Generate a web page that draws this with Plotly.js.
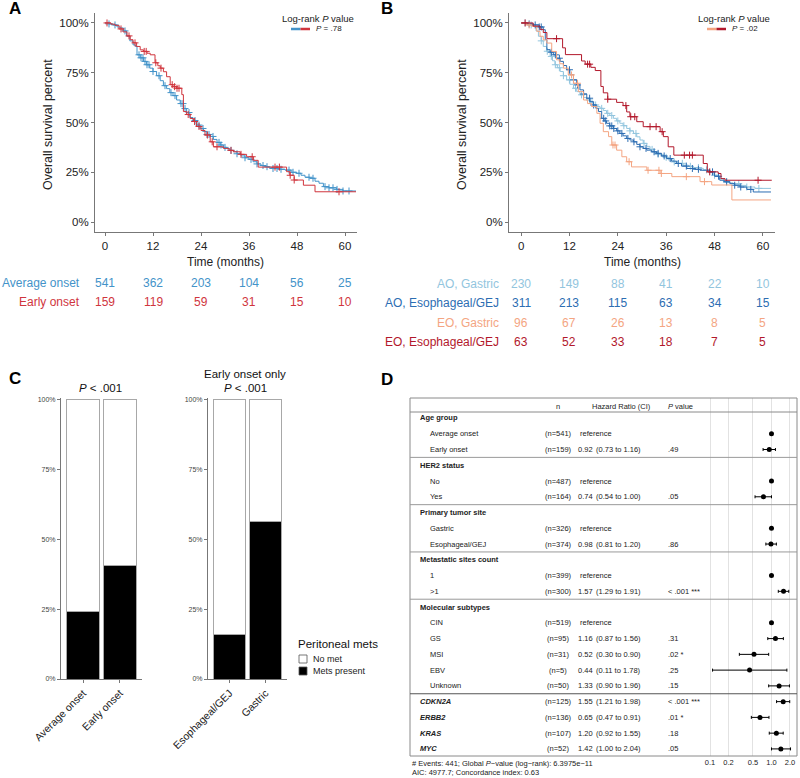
<!DOCTYPE html>
<html><head><meta charset="utf-8">
<script src="https://cdn.plot.ly/plotly-3.0.1.min.js"></script>
<style>html,body{margin:0;padding:0;background:#fff}#chart{width:800px;height:778px}</style>
</head><body><div id="chart"></div>
<script>
// ---------------- Panel A: Kaplan-Meier by onset ----------------
const timeTicks = [0, 12, 24, 36, 48, 60];
const survTicks = [0, 25, 50, 75, 100];
const survTickText = ['0%', '25%', '50%', '75%', '100%'];

const tA_avg = [0, 1, 2, 3, 3.8, 4.6, 5.4, 6.2, 7, 7.6, 8, 8.8, 9.6, 10.4, 11.2, 12, 12.9, 13.8, 14.6, 15.4, 16.2, 17, 17.9, 18.8, 19.6, 20.4, 21.2, 22, 23, 23.8, 24.6, 25.5, 26.3, 27.1, 28, 28.8, 29.6, 30.5, 31.3, 32.1, 33, 34, 35, 36, 37, 38, 39, 40, 41, 42, 43.5, 45, 46.5, 47.9, 49, 50, 51.2, 52.5, 53.5, 54.6, 56, 57.9, 59.5, 62.75];
const sA_avg = [100, 99.5, 99, 98, 97.5, 96, 93.3, 91, 89, 88.2, 84, 82.5, 80.7, 79, 77.3, 75.6, 73.5, 71, 68.5, 67, 65, 63.5, 61.3, 59.5, 57, 55, 52.5, 51, 48.7, 47, 45.5, 44, 43, 41.5, 40, 38.7, 37.5, 36.8, 36, 35.3, 34.3, 33.2, 32.3, 31.5, 30.3, 29.2, 28.4, 27.8, 27.2, 26.9, 26.5, 26.1, 25, 24.5, 23.5, 22.5, 22, 20.5, 19.5, 17.8, 17.2, 16.4, 15.6, 15.6];
const cA_avg = [1, 2.5, 5, 8.5, 9, 9.5, 10, 10.5, 11, 12, 13.5, 15, 16.5, 17.5, 19, 19.5, 20, 21, 22.5, 23.5, 24.5, 25.5, 26, 27, 28.5, 29, 30, 31.5, 33, 35, 36.5, 38, 39.5, 40.5, 42, 43, 44, 46, 47, 48.5, 51, 52, 55, 56, 57, 58, 59.5, 61];

const tA_early = [0, 1.5, 2.5, 3.5, 4.5, 5.5, 6.3, 7, 7.9, 8.8, 9.6, 10.5, 11.3, 12.5, 13.2, 13.8, 14.6, 15.4, 16.3, 17, 17.9, 19.2, 19.6, 20.4, 21.3, 22.1, 22.9, 24, 25, 26.3, 27.1, 29.6, 31, 32.1, 33.8, 35.4, 37.1, 38.3, 45.4, 46.2, 47.3, 49.6, 52.5, 62.75];
const sA_early = [100, 99.4, 98.8, 97, 95.5, 93.5, 91.6, 90, 88.2, 86.5, 85.7, 84.8, 84, 80, 78.5, 77.3, 75.5, 73, 69, 68, 67.2, 64, 55.5, 54, 52, 50.5, 48, 46, 43.7, 40.3, 37.8, 37, 36, 35.3, 34, 32.8, 31, 27.6, 25.3, 23.5, 21.1, 18.5, 15.2, 15.2];
const cA_early = [0.5, 4, 6, 7.5, 9.8, 10.3, 12.7, 14, 16.8, 17.4, 18, 18.5, 20.8, 22.4, 23.5, 25.6, 26.8, 28, 31.5, 34, 36.8, 42.5, 43.6, 46.3, 47.3, 58.5];

const riskA_labels = ['Average onset', 'Early onset'];
const riskA_avg = [541, 362, 203, 104, 56, 25];
const riskA_early = [159, 119, 59, 31, 15, 10];

// ---------------- Panel B: KM by onset x site ----------------
const tB_aoG = [0, 1.5, 3, 3.7, 4.3, 5, 5.5, 6.3, 7.2, 7.8, 8.4, 9, 9.7, 10.5, 11.3, 12.1, 13, 13.8, 14.6, 15.5, 16.3, 17.1, 17.9, 18.8, 19.6, 20.4, 21.2, 22, 22.9, 23.7, 24.5, 25.3, 26.2, 27, 27.9, 28.7, 29.5, 30.3, 31.2, 32, 33, 34, 35.3, 36.5, 37.8, 39, 40.2, 41.5, 42.7, 44.4, 45.2, 46.5, 47.7, 49, 50.2, 51.5, 52.6, 54.3, 55.9, 58, 62];
const sB_aoG = [100, 99, 98.3, 96, 93.3, 91, 88.2, 85.8, 83.2, 81, 79, 77.5, 75.6, 73.5, 71.4, 69.2, 67.2, 65.5, 63.9, 62.5, 61.3, 60, 58.8, 58, 57.1, 56, 54.6, 53.5, 52.1, 50.8, 49.6, 48.4, 47, 45.8, 44.5, 42.8, 41.2, 39.5, 38, 36.5, 35, 34, 32.5, 31.2, 30.2, 29.5, 28.6, 28, 27.4, 27, 26.2, 24.8, 23.5, 21.8, 20.2, 19.7, 19.3, 18.4, 17.6, 16.9, 16.9];
const cB_aoG = [1, 2.5, 5, 6.5, 7.5, 8.5, 9.5, 10.5, 12, 13.5, 15, 17, 18.5, 20, 21.5, 22.5, 24, 25.5, 27, 28.5, 30.5, 32.5, 34, 36, 38, 40, 42, 44, 46, 48, 51, 54, 56, 59];

const tB_aoE = [0, 1.5, 3, 4.5, 5.5, 6, 6.4, 7.2, 8, 8.8, 9.7, 10.5, 11.3, 12.1, 13, 13.8, 14.6, 15.5, 16.3, 17.1, 17.9, 18.6, 19.2, 20, 20.6, 21.2, 22, 22.9, 23.7, 24.5, 25.3, 26.2, 27, 27.9, 28.7, 29.5, 30.3, 31.2, 32.4, 33.6, 34.8, 36.1, 37.3, 38.6, 39.8, 41.1, 42.7, 44.4, 46.9, 48, 49.3, 50.5, 51.8, 53, 54.3, 56, 57.6, 62];
const sB_aoE = [100, 99.5, 99, 98, 96.6, 91.6, 86.6, 85.3, 84, 82.3, 80.7, 78.6, 76.5, 74, 71.4, 68.9, 66.4, 64.3, 62.2, 60.5, 58.8, 57.1, 55.5, 52.1, 50.8, 49.6, 48.3, 47, 45.8, 44.5, 43.3, 42, 41.2, 40.3, 39, 37.8, 37, 36.1, 35.3, 34.5, 33.2, 31.9, 30.6, 29.4, 28.1, 26.9, 26.5, 26, 25.2, 23, 21, 20.2, 19.3, 18.5, 17.6, 16.4, 15.1, 15.1];
const cB_aoE = [2, 3.5, 4.5, 5, 7.5, 8.5, 9.5, 12, 13, 14, 15.5, 17, 18, 20.5, 21, 22, 22.5, 23, 24, 25, 26.5, 28, 29.5, 31, 33, 34, 35.5, 37, 39, 41, 42.5, 44, 47.5, 49, 51, 53, 54.5, 57];

const tB_eoG = [0, 1.4, 2.6, 3.9, 4.7, 5.5, 6.4, 7.6, 8.8, 9.6, 10.5, 11.7, 13, 14.2, 15.5, 16.5, 17.5, 18.8, 19.6, 20.4, 21.7, 22.5, 23.7, 25, 26.2, 27.4, 31.2, 34.5, 37.4, 44.4, 47.3, 52.3, 62];
const sB_eoG = [100, 99, 98.3, 95.8, 93.3, 91.5, 89.9, 85.7, 81.5, 79.5, 77.3, 73.9, 69.7, 65.5, 61.3, 59.5, 58, 54.6, 49.6, 45.4, 42.9, 38.7, 36.1, 32.8, 30.3, 27.7, 26, 24.4, 22.8, 20.3, 18.6, 11.1, 11.1];
const cB_eoG = [2, 12.5, 14, 22.8, 23.3, 26.8, 31.5, 34.2, 34.8, 41, 45.5];

const tB_eoE = [0, 3, 4.7, 5.5, 6.4, 10.3, 11, 15, 15.9, 17.3, 18.4, 19.8, 20.4, 21.5, 23.7, 25.3, 26.2, 27, 28.7, 30.3, 34.5, 35.3, 36.5, 37.9, 45.2, 46.2, 48.9, 49.6, 50.6, 62.2];
const sB_eoE = [100, 98.4, 96.8, 95.2, 92.1, 87.5, 84.1, 80.9, 79.3, 77.7, 76.1, 68.1, 64.9, 61.7, 60.1, 58.5, 55.3, 52.9, 50.4, 47.9, 45.4, 42.9, 37.8, 33.6, 29.4, 25.2, 24.4, 21.8, 21, 21];
const cB_eoE = [1, 8.8, 16.5, 17, 21.5, 26, 27.2, 28.2, 32, 33.5, 35, 40.5, 41.8, 42.5, 46.8, 58.8];

const riskB_labels = ['AO, Gastric', 'AO, Esophageal/GEJ', 'EO, Gastric', 'EO, Esophageal/GEJ'];
const riskB_aoG = [230, 149, 88, 41, 22, 10];
const riskB_aoE = [311, 213, 115, 63, 34, 15];
const riskB_eoG = [96, 67, 26, 13, 8, 5];
const riskB_eoE = [63, 52, 33, 18, 7, 5];

// ---------------- Panel C: peritoneal mets ----------------
const c1Cats = ['Average onset', 'Early onset'];
const c1MetsPct = [24.1, 40.5];
const c2Cats = ['Esophageal/GEJ', 'Gastric'];
const c2MetsPct = [16.0, 56.4];
const metLegendTitle = 'Peritoneal mets';
const metLegend = ['No met', 'Mets present'];
const metColors = ['#ffffff', '#000000'];

// ---------------- Panel D: forest plot ----------------
const fLabels = ['Age group', 'Average onset', 'Early onset', 'HER2 status', 'No', 'Yes', 'Primary tumor site', 'Gastric', 'Esophageal/GEJ', 'Metastatic sites count', '1', '&gt;1', 'Molecular subtypes', 'CIN', 'GS', 'MSI', 'EBV', 'Unknown', 'CDKN2A', 'ERBB2', 'KRAS', 'MYC'];
const fKind = ['h', 'l', 'l', 'h', 'l', 'l', 'h', 'l', 'l', 'h', 'l', 'l', 'h', 'l', 'l', 'l', 'l', 'l', 'g', 'g', 'g', 'g'];
const fN = [null, 541, 159, null, 487, 164, null, 326, 374, null, 399, 300, null, 519, 95, 31, 5, 50, 125, 136, 107, 52];
const fHR = [null, 1, 0.92, null, 1, 0.74, null, 1, 0.98, null, 1, 1.57, null, 1, 1.16, 0.52, 0.44, 1.33, 1.55, 0.65, 1.20, 1.42];
const fLo = [null, null, 0.73, null, null, 0.54, null, null, 0.81, null, null, 1.29, null, null, 0.87, 0.30, 0.11, 0.90, 1.21, 0.47, 0.92, 1.00];
const fHi = [null, null, 1.16, null, null, 1.00, null, null, 1.20, null, null, 1.91, null, null, 1.56, 0.90, 1.78, 1.96, 1.98, 0.91, 1.55, 2.04];
const fP = [null, null, '.49', null, null, '.05', null, null, '.86', null, null, '&lt; .001 ***', null, null, '.31', '.02 *', '.25', '.15', '&lt; .001 ***', '.01 *', '.18', '.05'];
const fSeparators = [2.5, 5.5, 8.5, 11.5];
const fGeneSeparator = 17.5;
const fAxisTicks = [0.1, 0.2, 0.5, 1, 2];
const fAxisTickText = ['0.1', '0.2', '0.5', '1.0', '2.0'];
const fFooter1 = '# Events: 441; Global <i>P</i>\u2212value (log\u2212rank): 6.3975e\u221211';
const fFooter2 = 'AIC: 4977.7; Concordance index: 0.63';

// ---------------- helpers ----------------
const W = 800, H = 778;
const px = v => v / W;
const py = v => 1 - v / H;
const FONT = 'Liberation Sans, Arial, Helvetica, sans-serif';

function stepAt(ts, ss, t) { let v = ss[0]; for (let i = 0; i < ts.length; i++) { if (ts[i] <= t) v = ss[i]; } return v; }

function km(ts, ss, cens, color, xa, ya) {
  return [
    { x: ts, y: ss, type: 'scatter', mode: 'lines', line: { shape: 'hv', color: color, width: 1 }, xaxis: xa, yaxis: ya, showlegend: false, hoverinfo: 'skip' },
    { x: cens, y: cens.map(t => stepAt(ts, ss, t)), type: 'scatter', mode: 'markers', marker: { symbol: 'cross-thin-open', size: 5, color: color, line: { color: color, width: 1 } }, xaxis: xa, yaxis: ya, showlegend: false, hoverinfo: 'skip' }
  ];
}

const colA = { avg: '#4393c9', early: '#d0353d' };
const colB = { aoG: '#92c5de', aoE: '#2c6db2', eoG: '#f4a582', eoE: '#b2182b' };

let traces = [];
traces = traces.concat(km(tA_avg, sA_avg, cA_avg, colA.avg, 'x', 'y'));
traces = traces.concat(km(tA_early, sA_early, cA_early, colA.early, 'x', 'y'));
traces = traces.concat(km(tB_aoG, sB_aoG, cB_aoG, colB.aoG, 'x2', 'y2'));
traces = traces.concat(km(tB_aoE, sB_aoE, cB_aoE, colB.aoE, 'x2', 'y2'));
traces = traces.concat(km(tB_eoG, sB_eoG, cB_eoG, colB.eoG, 'x2', 'y2'));
traces = traces.concat(km(tB_eoE, sB_eoE, cB_eoE, colB.eoE, 'x2', 'y2'));

// bars
const barLine = { color: '#a8a8a8', width: 1 };
function bars(cats, mets, xa, ya) {
  return [
    { type: 'bar', x: cats, y: mets, name: metLegend[1], marker: { color: metColors[1], line: barLine }, width: 0.9, xaxis: xa, yaxis: ya, showlegend: false, hoverinfo: 'skip' },
    { type: 'bar', x: cats, y: mets.map(v => 100 - v), name: metLegend[0], marker: { color: metColors[0], line: barLine }, width: 0.9, xaxis: xa, yaxis: ya, showlegend: false, hoverinfo: 'skip' }
  ];
}
traces = traces.concat(bars(c1Cats, c1MetsPct, 'x3', 'y3'));
traces = traces.concat(bars(c2Cats, c2MetsPct, 'x4', 'y4'));

// forest
const rowIdx = fLabels.map((_, i) => i);
const refRows = rowIdx.filter(i => fHR[i] !== null && fLo[i] === null);
const estRows = rowIdx.filter(i => fLo[i] !== null);
traces.push({ type: 'scatter', mode: 'markers', x: refRows.map(i => fHR[i]), y: refRows, marker: { color: '#000', size: 5 }, xaxis: 'x5', yaxis: 'y5', showlegend: false, hoverinfo: 'skip' });
traces.push({ type: 'scatter', mode: 'markers', x: estRows.map(i => fHR[i]), y: estRows, marker: { color: '#000', size: 5 },
  error_x: { type: 'data', symmetric: false, array: estRows.map(i => fHi[i] - fHR[i]), arrayminus: estRows.map(i => fHR[i] - fLo[i]), thickness: 1, width: 1.5, color: '#000' },
  xaxis: 'x5', yaxis: 'y5', showlegend: false, hoverinfo: 'skip' });

// ---------------- annotations ----------------
const ann = [];
function A(x, y, text, o) { ann.push(Object.assign({ x: x, y: y, text: text, showarrow: false, xref: 'paper', yref: 'paper', xanchor: 'center', yanchor: 'middle', font: { family: FONT, size: 12, color: '#222' } }, o || {})); }

// panel letters
A(px(15), py(9), '<b>A</b>', { font: { family: FONT, size: 17, color: '#000' } });
A(px(387), py(9), '<b>B</b>', { font: { family: FONT, size: 17, color: '#000' } });
A(px(15), py(378), '<b>C</b>', { font: { family: FONT, size: 17, color: '#000' } });
A(px(387), py(379), '<b>D</b>', { font: { family: FONT, size: 17, color: '#000' } });

// axis titles KM
A(px(48), py(125), 'Overall survival percent', { textangle: -90, font: { family: FONT, size: 12.5, color: '#222' } });
A(px(462), py(125), 'Overall survival percent', { textangle: -90, font: { family: FONT, size: 12.5, color: '#222' } });
A(px(226), py(262), 'Time (months)', { font: { family: FONT, size: 12, color: '#222' } });
A(px(642), py(262), 'Time (months)', { font: { family: FONT, size: 12, color: '#222' } });

// KM legend
A(px(318), py(19), 'Log-rank <i>P</i> value', { font: { family: FONT, size: 9.5, color: '#222' } });
A(px(314), py(29), '<i>P</i> = .78', { xanchor: 'left', font: { family: FONT, size: 8, color: '#222' } });
A(px(734), py(19), 'Log-rank <i>P</i> value', { font: { family: FONT, size: 9.5, color: '#222' } });
A(px(730), py(29), '<i>P</i> = .02', { xanchor: 'left', font: { family: FONT, size: 8, color: '#222' } });

// risk tables
function riskRow(labelText, vals, color, xa, labelX, ypx) {
  A(px(labelX), py(ypx), labelText, { xanchor: 'right', font: { family: FONT, size: 12, color: color } });
  vals.forEach((v, i) => ann.push({ x: timeTicks[i], y: py(ypx), xref: xa, yref: 'paper', xanchor: 'center', yanchor: 'middle', text: String(v), showarrow: false, font: { family: FONT, size: 12, color: color } }));
}
riskRow(riskA_labels[0], riskA_avg, colA.avg, 'x', 82, 283);
riskRow(riskA_labels[1], riskA_early, colA.early, 'x', 82, 302);
riskRow(riskB_labels[0], riskB_aoG, colB.aoG, 'x2', 501, 284);
riskRow(riskB_labels[1], riskB_aoE, colB.aoE, 'x2', 501, 303);
riskRow(riskB_labels[2], riskB_eoG, colB.eoG, 'x2', 501, 323);
riskRow(riskB_labels[3], riskB_eoE, colB.eoE, 'x2', 501, 342);

// panel C titles
A(px(100), py(388), '<i>P</i> &lt; .001', { font: { family: FONT, size: 11.5, color: '#111' } });
A(px(245), py(374), 'Early onset only', { font: { family: FONT, size: 11.5, color: '#111' } });
A(px(245), py(388), '<i>P</i> &lt; .001', { font: { family: FONT, size: 11.5, color: '#111' } });

// panel C legend (drawn)
A(px(296), py(644), metLegendTitle, { xanchor: 'left', font: { family: FONT, size: 11.5, color: '#111' } });
const legRows = [659, 671];
metLegend.forEach((name, i) => A(px(311), py(legRows[i]), name, { xanchor: 'left', font: { family: FONT, size: 9, color: '#222' } }));

// forest table text
const FS = 7.5;
const fFont = { family: FONT, size: FS, color: '#222' };
A(px(558), py(406), 'n', { font: fFont });
A(px(621), py(406), 'Hazard Ratio (CI)', { font: fFont });
A(px(666), py(406), '<i>P</i> value', { xanchor: 'left', font: fFont });
function FA(xp, row, text, o) { ann.push(Object.assign({ x: px(xp), y: row, xref: 'paper', yref: 'y5', xanchor: 'center', yanchor: 'middle', text: text, showarrow: false, font: fFont }, o || {})); }
rowIdx.forEach(i => {
  const k = fKind[i];
  if (k === 'h') FA(418, i, '<b>' + fLabels[i] + '</b>', { xanchor: 'left' });
  else if (k === 'g') FA(418, i, '<b><i>' + fLabels[i] + '</i></b>', { xanchor: 'left' });
  else FA(428, i, fLabels[i], { xanchor: 'left' });
  if (fN[i] !== null) FA(558, i, '(n=' + fN[i] + ')');
  if (fHR[i] !== null && fLo[i] === null) FA(578, i, 'reference', { xanchor: 'left' });
  if (fLo[i] !== null) {
    FA(585, i, fHR[i].toFixed(2));
    FA(618, i, '(' + fLo[i].toFixed(2) + ' to ' + fHi[i].toFixed(2) + ')');
    FA(666, i, fP[i], { xanchor: 'left' });
  }
});
A(px(410), py(763), fFooter1, { xanchor: 'left', font: fFont });
A(px(410), py(772), fFooter2, { xanchor: 'left', font: fFont });

// ---------------- shapes ----------------
const shapes = [];
// KM legend keys
shapes.push({ type: 'line', xref: 'paper', yref: 'paper', x0: px(291), x1: px(300.5), y0: py(29), y1: py(29), line: { color: colA.avg, width: 2.5 } });
shapes.push({ type: 'line', xref: 'paper', yref: 'paper', x0: px(300.5), x1: px(310), y0: py(29), y1: py(29), line: { color: colA.early, width: 2.5 } });
shapes.push({ type: 'line', xref: 'paper', yref: 'paper', x0: px(707), x1: px(716.5), y0: py(29), y1: py(29), line: { color: colB.eoG, width: 2.5 } });
shapes.push({ type: 'line', xref: 'paper', yref: 'paper', x0: px(716.5), x1: px(726), y0: py(29), y1: py(29), line: { color: colB.eoE, width: 2.5 } });
// panel C legend keys
legRows.forEach((r, i) => shapes.push({ type: 'rect', xref: 'paper', yref: 'paper', x0: px(299), x1: px(307), y0: py(r + 4), y1: py(r - 4), fillcolor: metColors[i], line: { color: '#555', width: 0.8 } }));
// forest box
shapes.push({ type: 'rect', xref: 'paper', yref: 'paper', x0: px(410), x1: px(797), y0: py(756), y1: py(398), line: { color: '#8a8a8a', width: 1 }, layer: 'above' });
shapes.push({ type: 'line', xref: 'paper', yref: 'paper', x0: px(410), x1: px(797), y0: py(412), y1: py(412), line: { color: '#8a8a8a', width: 1 } });
fSeparators.forEach(s => shapes.push({ type: 'line', xref: 'paper', yref: 'y5', x0: px(410), x1: px(797), y0: s, y1: s, line: { color: '#9a9a9a', width: 1 } }));
shapes.push({ type: 'line', xref: 'paper', yref: 'y5', x0: px(410), x1: px(797), y0: fGeneSeparator, y1: fGeneSeparator, line: { color: '#555', width: 1 } });
shapes.push({ type: 'line', xref: 'x5', yref: 'paper', x0: 0, x1: 0, y0: py(756), y1: py(398), line: { color: '#000', width: 1, dash: 'dot' }, layer: 'below' });

// ---------------- layout ----------------
const axLine = { showline: true, linecolor: '#777', linewidth: 1, ticks: 'outside', ticklen: 3, tickcolor: '#777', showgrid: false, zeroline: false };
const layout = {
  width: W, height: H, margin: { l: 0, r: 0, t: 0, b: 0 },
  paper_bgcolor: '#fff', plot_bgcolor: 'rgba(0,0,0,0)',
  font: { family: FONT, color: '#222' },
  showlegend: false,
  barmode: 'stack', bargap: 0,
  xaxis: Object.assign({ domain: [px(95), px(357)], range: [-2.5, 63], anchor: 'y', tickvals: timeTicks, tickfont: { size: 11.5, color: '#222' } }, axLine),
  yaxis: Object.assign({ domain: [py(232), py(13)], range: [-5, 105], anchor: 'x', tickvals: survTicks, ticktext: survTickText, tickfont: { size: 11.5, color: '#222' } }, axLine),
  xaxis2: Object.assign({ domain: [px(509), px(775)], range: [-3, 63], anchor: 'y2', tickvals: timeTicks, tickfont: { size: 11.5, color: '#222' } }, axLine),
  yaxis2: Object.assign({ domain: [py(232), py(13)], range: [-5, 105], anchor: 'x2', tickvals: survTicks, ticktext: survTickText, tickfont: { size: 11.5, color: '#222' } }, axLine),
  xaxis3: Object.assign({ domain: [px(61), px(142)], type: 'category', range: [-0.6, 1.6], anchor: 'y3', tickangle: -45, tickfont: { size: 10.5, color: '#222' } }, axLine),
  yaxis3: Object.assign({ domain: [py(679), py(398)], range: [0, 100.7], anchor: 'x3', tickvals: survTicks, ticktext: survTickText, tickfont: { size: 7, color: '#444' } }, axLine),
  xaxis4: Object.assign({ domain: [px(208), px(287)], type: 'category', range: [-0.6, 1.6], anchor: 'y4', tickangle: -45, tickfont: { size: 10.5, color: '#222' } }, axLine),
  yaxis4: Object.assign({ domain: [py(679), py(398)], range: [0, 100.7], anchor: 'x4', tickvals: survTicks, ticktext: survTickText, tickfont: { size: 7, color: '#444' } }, axLine),
  xaxis5: { domain: [px(700), px(797)], type: 'log', range: [-1.163, 0.415], anchor: 'y5', tickvals: fAxisTicks, ticktext: fAxisTickText, showgrid: true, gridcolor: '#e2e2e2', gridwidth: 1, zeroline: false, showline: false, ticks: '', tickfont: { size: 7.5, color: '#222' } },
  yaxis5: { domain: [py(756), py(398)], range: [21.45, -1.269], anchor: 'x5', showticklabels: false, showgrid: false, zeroline: false, showline: false, ticks: '' },
  annotations: ann,
  shapes: shapes
};

Plotly.newPlot('chart', traces, layout, { displayModeBar: false, staticPlot: true });
</script></body></html>
